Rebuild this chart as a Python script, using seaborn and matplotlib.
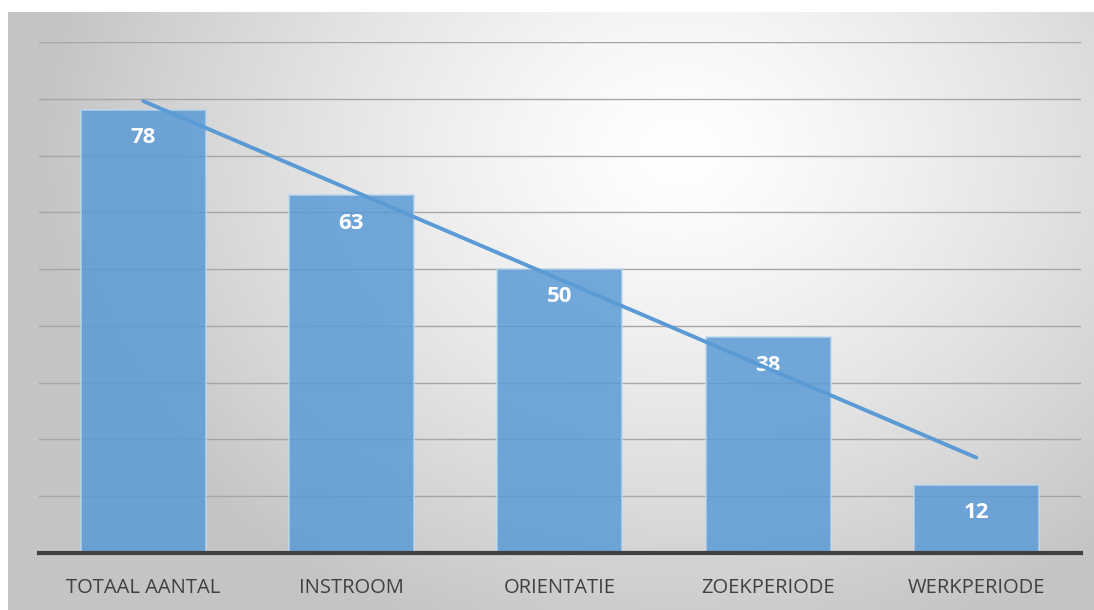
import numpy as np
import pandas as pd
import matplotlib
matplotlib.use("Agg")
import matplotlib.pyplot as plt
import seaborn as sns

categories = ["TOTAAL AANTAL", "INSTROOM", "ORIENTATIE", "ZOEKPERIODE", "WERKPERIODE"]
values = [78, 63, 50, 38, 12]
y_ticks = [0, 10, 20, 30, 40, 50, 60, 70, 80, 90]

sns.set_theme(style="white")
plt.rcParams["font.family"] = ["Open Sans", "DejaVu Sans"]

W, H = 1094, 610
fig = plt.figure(figsize=(W / 100, H / 100), dpi=100)
fig.patch.set_facecolor("white")

# gradient background panel
bg = fig.add_axes([8 / W, 0, 1 - 8 / W, (H - 12) / H], zorder=0)
bx, by = np.meshgrid(np.linspace(8, W, 400), np.linspace(12, H, 250))
cx, cy = 680, 150
d = np.sqrt(((bx - cx) / 640) ** 2 + ((by - cy) / 520) ** 2)
d = np.clip(d, 0, 1)
shade = 1.0 - 0.23 * d ** 1.3
img = np.dstack([shade, shade, shade])
bg.imshow(img, extent=[8, W, H, 12], aspect="auto")
bg.set_xlim(8, W)
bg.set_ylim(H, 12)
bg.axis("off")

ax = fig.add_axes([39 / W, 57 / H, (1080.5 - 39) / W, 511 / H], zorder=1)
ax.patch.set_alpha(0)

df = pd.DataFrame({"cat": categories, "val": values})
sns.barplot(data=df, x="cat", y="val", ax=ax, color="#5B9BD5", width=0.6,
            saturation=1, alpha=0.85, edgecolor="#BDD7EE", linewidth=1.2, zorder=3)

for i, v in enumerate(values):
    ax.annotate(str(v), (i, v), xytext=(0, -20), textcoords="offset points",
                ha="center", va="center", color="white", fontsize=16,
                fontweight="bold", zorder=4)

# linear trendline (drawn over the labels)
xs = np.arange(len(values))
k, b = np.polyfit(xs, values, 1)
ax.plot([xs[0], xs[-1]], [k * xs[0] + b, k * xs[-1] + b], color="#5B9BD5",
        lw=2.8, solid_capstyle="round", zorder=5)

ax.set_xlim(-0.5, len(categories) - 0.5)
ax.set_ylim(0, 90)
ax.set_yticks(y_ticks)
ax.yaxis.grid(True, color="#A6A6A6", lw=1.0, zorder=0)
ax.set_axisbelow(True)
ax.tick_params(axis="y", left=False, labelleft=False)
ax.tick_params(axis="x", bottom=False, pad=12, labelsize=14.5, labelcolor="#404040")
ax.set_xlabel("")
ax.set_ylabel("")
for s in ["top", "right", "left"]:
    ax.spines[s].set_visible(False)
ax.spines["bottom"].set_color("#404040")
ax.spines["bottom"].set_linewidth(3)
ax.spines["bottom"].set_zorder(6)

fig.savefig("out.png", dpi=100)
